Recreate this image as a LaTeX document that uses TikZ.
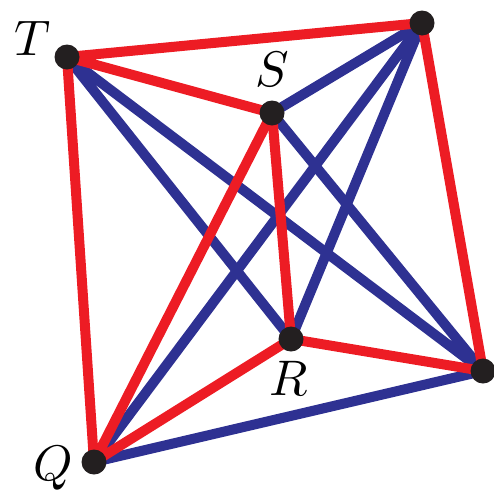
\documentclass[tikz,border=0pt]{standalone}
\definecolor{edgered}{HTML}{ED1C24}
\definecolor{edgeblue}{HTML}{2E3192}
\definecolor{dotblack}{HTML}{231F20}
\begin{document}
\begin{tikzpicture}[x=1pt, y=-1pt, declare function={r=12.5;}, line cap=round, line join=round,
		redline/.style={draw=edgered, line width=10pt},
		blueline/.style={draw=edgeblue, line width=10pt},
		lbl/.style={inner sep=0pt, anchor=base, scale=5.0}]
			\useasboundingbox (0,0) rectangle (494,493);
			\path (67,57) coordinate (T)
			(422,23) coordinate (U)
			(272,113) coordinate (S)
			(291,339) coordinate (R)
			(483,371) coordinate (V)
			(94,462) coordinate (Q);
			
			\draw[blueline] (T) -- (R) (T) -- (V) (S) -- (U) (S) -- (V);
			\draw[blueline] (Q) -- (U) (R) -- (U) (Q) -- (V);
			\draw[redline] (Q) -- (T) -- (U) -- (V) -- (R) -- (Q) -- (S) -- (T);
			\draw[redline] (S) -- (R);
			
			\foreach \u in {T,U,S,R,V,Q} {
				\fill[dotblack] (\u) circle (r);
			}
			\node[lbl] (labT) at (33,55) {$T$};
			\node[lbl] (labS) at (272,86) {$S$};
			\node[lbl] (labR) at (289,395) {$R$};
			\node[lbl] (labQ) at (53,480) {$Q$};
	\end{tikzpicture}
\end{document}
